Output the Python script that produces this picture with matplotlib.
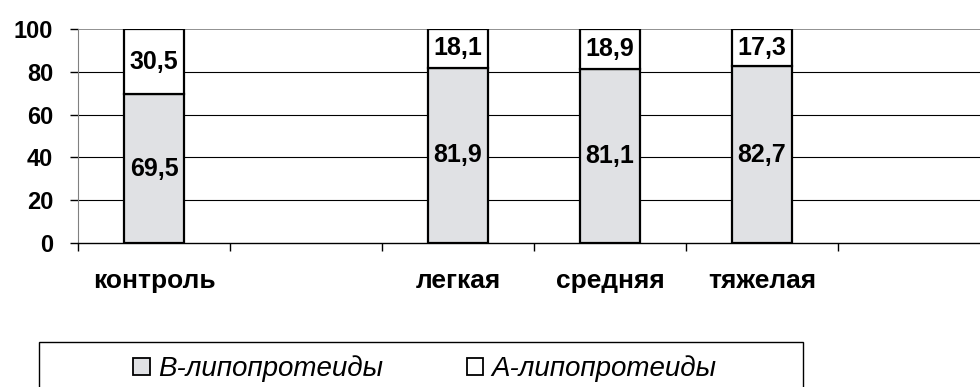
import numpy as np
import matplotlib.pyplot as plt
from matplotlib.patches import Rectangle

categories = ['контроль', '', 'легкая', 'средняя', 'тяжелая', '']
b_lipo = [69.5, 81.9, 81.1, 82.7]   # В-липопротеиды
a_lipo = [30.5, 18.1, 18.9, 17.3]   # А-липопротеиды
y_ticks = [0, 20, 40, 60, 80, 100]

plt.rcParams['font.family'] = ['Liberation Sans', 'DejaVu Sans']

fig = plt.figure(figsize=(9.8, 3.87), dpi=100)
ax = fig.add_axes([78 / 980, 1 - 243 / 387, 1 - 78 / 980, (243 - 29) / 387])

# bars only in the non-empty category slots
pos = np.array([i for i, c in enumerate(categories) if c])
width = 0.4
b_color = '#e0e1e4'

ax.bar(pos, b_lipo, width, color=b_color, edgecolor='black', linewidth=1.6,
       label='В-липопротеиды', zorder=3)
ax.bar(pos, a_lipo, width, bottom=b_lipo, color='white', edgecolor='black',
       linewidth=1.6, label='А-липопротеиды', zorder=3)

for x, b, a in zip(pos, b_lipo, a_lipo):
    ax.text(x, b / 2, f'{b:.1f}'.replace('.', ','), ha='center', va='center',
            fontsize=18, fontweight='bold', zorder=4)
    ax.text(x, b + a / 2, f'{a:.1f}'.replace('.', ','), ha='center', va='center',
            fontsize=18, fontweight='bold', zorder=4)

ax.set_ylim(0, 100)
ax.set_xlim(-0.5, (980 - 78) / 152 - 0.5)
ax.set_yticks(y_ticks)
ax.set_yticklabels([str(v) for v in y_ticks], fontsize=17, fontweight='bold')
for y in y_ticks[1:-1]:
    ax.axhline(y, color='black', linewidth=0.8, zorder=1)
ax.axhline(100, color='#909090', linewidth=1.4, zorder=1)

# tick marks between slots, labels under slot centres
ax.set_xticks(np.arange(len(categories)) - 0.5)
ax.set_xticklabels([])
ax.set_xticks(np.arange(len(categories)), minor=True)
ax.set_xticklabels(categories, minor=True, fontsize=19, fontweight='bold')
ax.tick_params(axis='x', which='major', length=6, width=1, direction='out')
ax.tick_params(axis='x', which='minor', length=0, pad=19)
ax.tick_params(axis='y', length=6, width=1, direction='out', pad=12)

ax.spines['top'].set_visible(False)
ax.spines['right'].set_visible(False)
ax.spines['left'].set_color('#808080')
ax.spines['bottom'].set_color('black')
ax.spines['bottom'].set_linewidth(1.0)

# legend box runs off the bottom edge
fig.patches.append(Rectangle((39 / 980, -0.05), (803 - 39) / 980, 0.05 + 1 - 342 / 387,
                             transform=fig.transFigure, facecolor='none',
                             edgecolor='black', linewidth=1.0))
leg = fig.legend(loc='center', bbox_to_anchor=(425 / 980, 1 - 369 / 387),
                 ncol=2, frameon=False, prop={'size': 20, 'style': 'italic'},
                 handlelength=0.6, handleheight=0.6, handletextpad=0.3,
                 columnspacing=3.0, borderaxespad=0)
for h in leg.legend_handles:
    h.set_linewidth(1.3)

fig.savefig('out.png', dpi=100)
